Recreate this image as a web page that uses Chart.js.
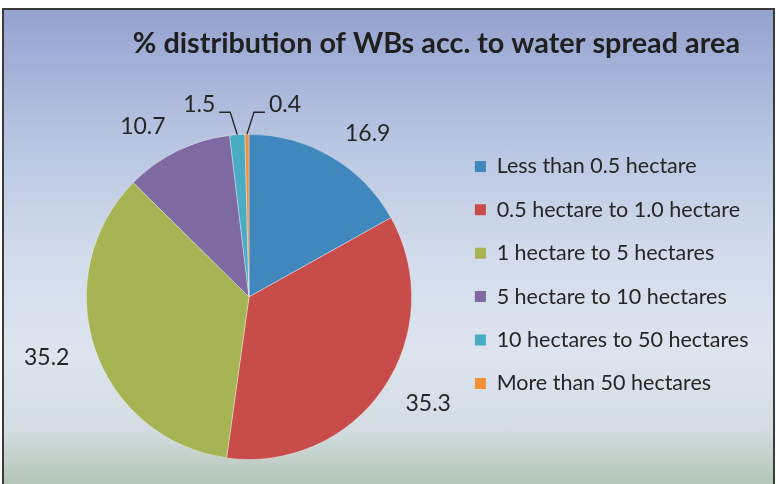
<!DOCTYPE html>
<html>
<head>
<meta charset="utf-8">
<script src="https://cdn.jsdelivr.net/npm/chart.js@4.4.1/dist/chart.umd.min.js"></script>
<style>
  html, body { margin: 0; padding: 0; width: 776px; height: 484px; overflow: hidden; background: #fff; }
  #frame {
    position: absolute; left: 2px; top: 8px; width: 773px; height: 480px;
    box-sizing: border-box; border: 2px solid #3a3a3a;
    background: linear-gradient(180deg, #95a2cf 0%, #b9c6e2 28%, #d3dcec 52%, #dce4ee 72%, #d3dde3 88%, #b3c5b4 100%);
  }
  #chart { position: absolute; left: 0; top: 0; }
</style>
</head>
<body>
<div id="frame"></div>
<canvas id="chart" width="776" height="484"></canvas>
<script>
// categories + values
const categories = [
  'Less than 0.5 hectare',
  '0.5 hectare to 1.0 hectare',
  '1 hectare to 5 hectares',
  '5 hectare to 10 hectares',
  '10 hectares to 50 hectares',
  'More than 50 hectares'
];
const shares = [16.9, 35.3, 35.2, 10.7, 1.5, 0.4];
const sliceColors = ['#3f87bd', '#c84d4a', '#a7b453', '#7e69a1', '#4aacc4', '#f0913a'];

// value labels outside the pie, small slices get a leader line
const valueLabels = {
  id: 'valueLabels',
  afterLayout(chart) {
    // title sits a bit left of the legend's right edge
    if (chart.titleBlock) chart.titleBlock.right = chart.width - 36;
  },
  afterDatasetsDraw(chart) {
    const ctx = chart.ctx;
    const meta = chart.getDatasetMeta(0);
    const values = chart.data.datasets[0].data;
    ctx.save();
    ctx.font = '23px Lato';
    ctx.fillStyle = '#262626';
    ctx.strokeStyle = '#262626';
    ctx.lineWidth = 1.3;
    ctx.textBaseline = 'middle';
    meta.data.forEach((arc, i) => {
      const p = arc.getProps(['x', 'y', 'startAngle', 'endAngle', 'outerRadius'], true);
      const mid = (p.startAngle + p.endAngle) / 2;
      const cos = Math.cos(mid), sin = Math.sin(mid);
      const text = values[i].toFixed(1);
      if (values[i] < 3) {
        const dir = i === values.length - 1 ? 1 : -1;
        const sx = p.x + cos * p.outerRadius, sy = p.y + sin * p.outerRadius;
        const ex = sx + dir * 7, ey = p.y - p.outerRadius - 22;
        const hx = ex + dir * 11;
        ctx.beginPath();
        ctx.moveTo(sx, sy);
        ctx.lineTo(ex, ey);
        ctx.lineTo(hx, ey);
        ctx.stroke();
        ctx.textAlign = dir > 0 ? 'left' : 'right';
        ctx.fillText(text, hx + dir * 4, ey - 8);
      } else {
        const w = ctx.measureText(text).width;
        const lx = p.x + cos * (p.outerRadius + 27) + Math.sign(cos) * w / 2;
        const ly = p.y + sin * (p.outerRadius + 27);
        ctx.textAlign = 'center';
        ctx.fillText(text, lx, ly);
      }
    });
    ctx.restore();
  }
};

new Chart(document.getElementById('chart'), {
  type: 'pie',
  data: {
    labels: categories,
    datasets: [{
      data: shares,
      backgroundColor: sliceColors,
      borderColor: 'rgba(255,255,255,0.35)',
      borderWidth: 1
    }]
  },
  options: {
    responsive: false,
    animation: false,
    layout: { padding: { left: 45, right: 20, top: 0, bottom: 24 } },
    plugins: {
      title: {
        display: true,
        text: '% distribution of WBs acc. to water spread area',
        align: 'end',
        color: '#1f1f1f',
        font: { family: 'Lato', size: 28.8, weight: 'bold' },
        padding: { top: 26.7, bottom: 72.5 }
      },
      legend: {
        position: 'right',
        align: 'start',
        fullSize: false,
        maxWidth: 303,
        labels: {
          color: '#262626',
          font: { family: 'Lato', size: 21.5 },
          boxWidth: 11,
          boxHeight: 11,
          padding: 21.9,
          generateLabels(chart) {
            const items = Chart.overrides.pie.plugins.legend.labels.generateLabels(chart);
            items.forEach(it => { it.lineWidth = 0; });
            return items;
          }
        }
      },
      tooltip: { enabled: false }
    }
  },
  plugins: [valueLabels]
});
</script>
</body>
</html>
